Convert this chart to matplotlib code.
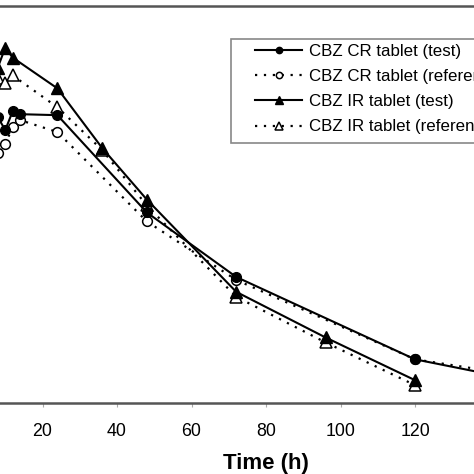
import matplotlib
matplotlib.use('Agg')
import matplotlib.pyplot as plt
from matplotlib.patches import Rectangle

plt.rcParams['font.family'] = ['Liberation Sans', 'DejaVu Sans']

# sampling times (h) and plasma levels (arbitrary units)
t_cr_test = [8, 10, 12, 14, 24, 48, 72, 120, 144]
cr_test = [2.88, 2.75, 2.94, 2.91, 2.90, 1.92, 1.27, 0.44, 0.26]

t_cr_ref = [8, 10, 12, 14, 24, 48, 72, 120, 144]
cr_ref = [2.52, 2.61, 2.78, 2.85, 2.73, 1.83, 1.24, 0.44, 0.30]

t_ir_test = [8, 10, 12, 24, 36, 48, 72, 96, 120]
ir_test = [3.38, 3.58, 3.48, 3.17, 2.57, 2.05, 1.12, 0.66, 0.23]

t_ir_ref = [8, 10, 12, 24, 36, 48, 72, 96, 120]
ir_ref = [3.27, 3.22, 3.30, 2.98, 2.55, 1.99, 1.07, 0.61, 0.18]

labels = ['CBZ CR tablet (test)', 'CBZ CR tablet (reference)',
          'CBZ IR tablet (test)', 'CBZ IR tablet (reference)']
xticks = [20, 40, 60, 80, 100, 120, 140]

W = 474
fig = plt.figure(figsize=(4.74, 4.74), dpi=100)
# the figure is a crop: the axes run past the left and right edges
ax = fig.add_axes([-32 / W, 71 / W, 596 / W, 397 / W])

dot = (0, (1, 3.0))
# test series drawn on top of the reference ones
ax.plot(t_cr_test, cr_test, '-', color='black', lw=1.5, marker='o', ms=7,
        mfc='black', mec='black', label=labels[0], zorder=3)
ax.plot(t_cr_ref, cr_ref, linestyle=dot, color='black', lw=1.6, marker='o', ms=7,
        mfc='white', mec='black', mew=1.1, label=labels[1], zorder=2)
ax.plot(t_ir_test, ir_test, '-', color='black', lw=1.5, marker='^', ms=9,
        mfc='black', mec='black', label=labels[2], zorder=3)
ax.plot(t_ir_ref, ir_ref, linestyle=dot, color='black', lw=1.6, marker='^', ms=9,
        mfc='white', mec='black', mew=1.1, label=labels[3], zorder=2)

ax.set_xlim(0, 160)
ax.set_ylim(0, 4)
ax.set_xticks(xticks)
ax.set_yticks([])
ax.tick_params(axis='x', length=3, width=0.8, color='#aaaaaa', pad=11.5,
               labelsize=12.8)
for s in ['top', 'bottom']:
    ax.spines[s].set_color('#555555')
    ax.spines[s].set_linewidth(1.8)
ax.set_xlabel('Time (h)', fontsize=16, fontweight='bold', labelpad=9)

leg = ax.legend(loc='upper left', bbox_to_anchor=(255 / W, 1 - 44 / W),
                bbox_transform=fig.transFigure, frameon=False, fontsize=12.2,
                borderaxespad=0, borderpad=0, handlelength=2.8,
                handletextpad=0.4, labelspacing=0.6, markerscale=0.65)
leg.set_zorder(6)

ax.add_patch(Rectangle((231 / W, 1 - 143 / W), 0.6, 104 / W,
                       transform=fig.transFigure, clip_on=False,
                       facecolor='white', edgecolor='#888888', lw=1.2, zorder=5))

fig.savefig('out.png', dpi=100)
